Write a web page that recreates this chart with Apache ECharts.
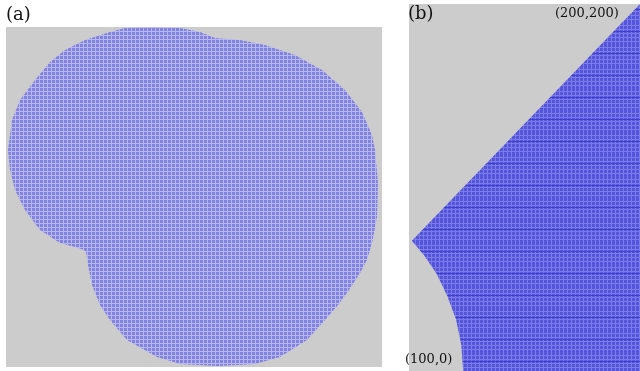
<!DOCTYPE html>
<html>
<head>
<meta charset="utf-8">
<script src="https://cdn.jsdelivr.net/npm/echarts@6/dist/echarts.min.js"></script>
<style>
  html, body { margin: 0; padding: 0; background: #fff; }
  #chart { width: 640px; height: 371px; }
</style>
</head>
<body>
<div id="chart"></div>
<script>
// panel (a): outline of the dotted blob (x right, y down)
const blobX = [125, 150, 180, 200, 215, 240, 265, 295, 322, 345, 362, 372, 375, 378, 377, 372, 367, 360, 349, 338, 325, 307, 280, 255, 218, 180, 157, 127, 110, 100, 92, 88, 86, 84, 75, 60, 40, 25, 15, 10, 8, 12, 20, 35, 50, 65, 85, 110];
const blobY = [28, 27, 28, 32, 38, 40, 45, 55, 70, 90, 112, 135, 150, 183, 217, 243, 260, 273, 290, 305, 320, 340, 357, 364, 366, 364, 357, 340, 320, 305, 285, 265, 252, 250, 247, 243, 230, 210, 190, 170, 150, 120, 100, 80, 62, 50, 40, 32];

// panel (b): region outside the arc through (100,0) and below the diagonal to (200,200)
const wedgeX = [100, 99, 96, 91, 85, 78, 71, 200, 200];
const wedgeY = [0, 14, 28, 41, 53, 63, 71, 200, 0];

const labelA = '(a)';
const labelB = '(b)';
const cornerTop = '(200,200)';
const cornerBottom = '(100,0)';

function tile(w, h, draw) {
  const c = document.createElement('canvas');
  c.width = w; c.height = h;
  draw(c.getContext('2d'));
  return c;
}

// dotted fill for the blob
const dotsA = tile(4, 4, ctx => {
  ctx.fillStyle = '#b8b8f0'; ctx.fillRect(0, 0, 4, 4);
  ctx.fillStyle = '#8282e2'; ctx.fillRect(0, 0, 3, 3);
});
// denser fill for the wedge, with its faint horizontal lines
const dotsB = tile(4, 22, ctx => {
  ctx.fillStyle = '#7c7ce6'; ctx.fillRect(0, 0, 4, 22);
  ctx.fillStyle = '#5454dc';
  for (let y = 0; y < 22; y += 4) ctx.fillRect(0, y, 3, 3);
  ctx.fillStyle = '#4040cf'; ctx.fillRect(0, 9, 4, 1);
});

function polygonItem(xs, ys, fillImg) {
  return function (params, api) {
    const pts = xs.map((x, i) => api.coord([x, ys[i]]));
    return {
      type: 'polygon',
      shape: { points: pts },
      style: { fill: { image: fillImg, repeat: 'repeat' }, stroke: null }
    };
  };
}

const chart = echarts.init(document.getElementById('chart'));

const option = {
  backgroundColor: '#ffffff',
  animation: false,
  grid: [
    { left: 6, top: 27, width: 376, height: 340, show: true, backgroundColor: '#cccccc', borderWidth: 0 },
    { left: 409, top: 4, width: 239, height: 367, show: true, backgroundColor: '#cccccc', borderWidth: 0 }
  ],
  xAxis: [
    { gridIndex: 0, type: 'value', min: 6, max: 382, show: false },
    { gridIndex: 1, type: 'value', min: 69.4, max: 200, show: false }
  ],
  yAxis: [
    { gridIndex: 0, type: 'value', min: 27, max: 367, inverse: true, show: false },
    { gridIndex: 1, type: 'value', min: 0, max: 200, show: false }
  ],
  series: [
    {
      type: 'custom',
      xAxisIndex: 0, yAxisIndex: 0,
      data: [0],
      clip: true,
      renderItem: polygonItem(blobX, blobY, dotsA)
    },
    {
      type: 'custom',
      xAxisIndex: 1, yAxisIndex: 1,
      data: [0],
      clip: true,
      renderItem: polygonItem(wedgeX, wedgeY, dotsB)
    }
  ],
  graphic: [
    { type: 'text', left: 6, top: 6, style: { text: labelA, font: '18px "DejaVu Serif"', fill: '#111' } },
    { type: 'text', left: 408, top: 5, style: { text: labelB, font: '18px "DejaVu Serif"', fill: '#111' } },
    { type: 'text', left: 555, top: 7, style: { text: cornerTop, font: '13px "DejaVu Serif"', fill: '#111' } },
    { type: 'text', left: 405, top: 353, style: { text: cornerBottom, font: '13px "DejaVu Serif"', fill: '#111' } }
  ]
};

chart.setOption(option);
</script>
</body>
</html>
